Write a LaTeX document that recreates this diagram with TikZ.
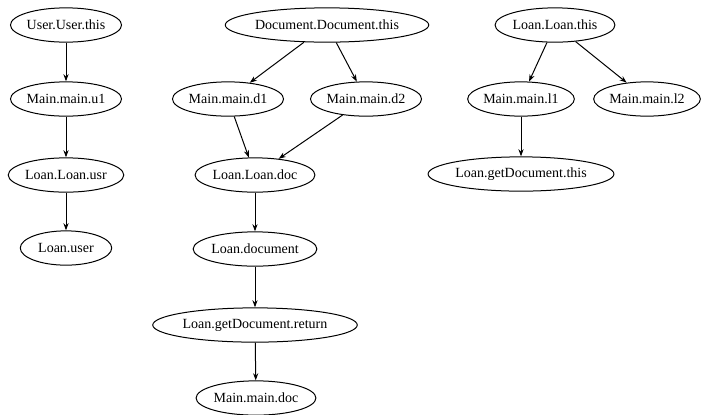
\documentclass[tikz,border=0pt]{standalone}
\usepackage{fontspec}
\setmainfont{Liberation Serif}
\usepackage{tikz}
\usetikzlibrary{positioning, arrows.meta, shapes.geometric}
\tikzset{
    var/.style={draw, ellipse, line width=0.7pt, inner xsep=0pt, inner ysep=1pt, minimum width=64pt, minimum height=24pt, font=\fontsize{9.8}{11}\selectfont},
    flow/.style={-{Stealth[length=5pt, width=3.6pt]}, line width=0.7pt}
}
\begin{document}
\begin{tikzpicture}[x=0.7pt, y=-0.7pt]
\useasboundingbox (0,0) rectangle (702,414);

% Nodes
\node[var] (uthis) at (66,25) {User.User.this};
\node[var] (u1) at (66,99) {Main.main.u1};
\node[var] (lusr) at (66,175) {Loan.Loan.usr};
\node[var] (luser) at (66,248) {Loan.user};

\node[var] (dthis) at (327,25) {Document.Document.this};
\node[var] (d1) at (228,99) {Main.main.d1};
\node[var] (d2) at (366,99) {Main.main.d2};
\node[var] (ldoc) at (255,175) {Loan.Loan.doc};
\node[var] (ldocument) at (255,249) {Loan.document};
\node[var] (gdret) at (255,325) {Loan.getDocument.return};
\node[var] (mdoc) at (256,398) {Main.main.doc};

\node[var] (lthis) at (555,25) {Loan.Loan.this};
\node[var] (l1) at (521,99) {Main.main.l1};
\node[var] (l2) at (647,99) {Main.main.l2};
\node[var] (gdthis) at (521,174) {Loan.getDocument.this};

% Arcs
\draw[flow] (uthis) -- (u1);
\draw[flow] (u1) -- (lusr);
\draw[flow] (lusr) -- (luser);

\draw[flow] (dthis) -- (d1);
\draw[flow] (dthis) -- (d2);
\draw[flow] (d1) -- (ldoc);
\draw[flow] (d2) -- (ldoc);
\draw[flow] (ldoc) -- (ldocument);
\draw[flow] (ldocument) -- (gdret);
\draw[flow] (gdret) -- (mdoc);

\draw[flow] (lthis) -- (l1);
\draw[flow] (lthis) -- (l2);
\draw[flow] (l1) -- (gdthis);

\end{tikzpicture}
\end{document}
